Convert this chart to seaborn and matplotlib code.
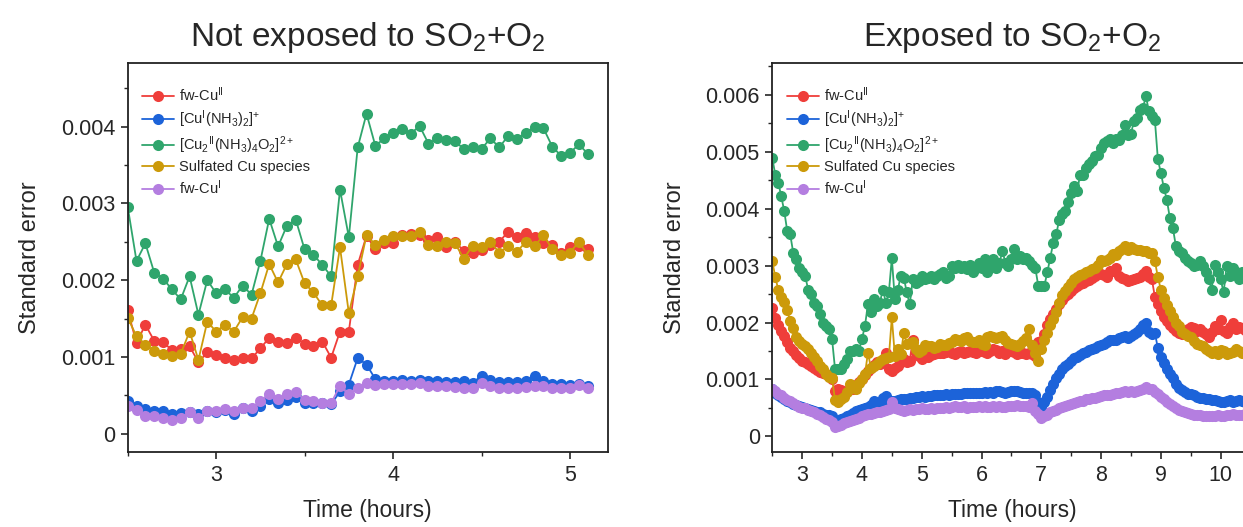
import numpy as np
import pandas as pd
import seaborn as sns
import matplotlib
matplotlib.use("Agg")
import matplotlib.pyplot as plt
from matplotlib.ticker import MultipleLocator, FuncFormatter

# standard error values, in units of 1e-3
species = [
    "fw-Cu$\\mathregular{^{II}}$",
    "[Cu$\\mathregular{^{I}}$(NH$\\mathregular{_3}$)$\\mathregular{_2}$]$\\mathregular{^{+}}$",
    "[Cu$\\mathregular{_2}$$\\mathregular{^{II}}$(NH$\\mathregular{_3}$)$\\mathregular{_4}$O$\\mathregular{_2}$]$\\mathregular{^{2+}}$",
    "Sulfated Cu species",
    "fw-Cu$\\mathregular{^{I}}$",
]
colors = ["#EF3E3A", "#1C63D9", "#2FA56C", "#CC9A0A", "#B47EE0"]

# left panel: not exposed (sampled every 0.05 h from 2.5 h)
time_left = np.round(np.arange(53) * 0.05 + 2.5, 2)
red_left = [1.61, 1.18, 1.42, 1.21, 1.19, 1.09, 1.10, 1.14, 0.93, 1.06,
            1.02, 0.985, 0.96, 0.98, 0.98, 1.11, 1.25, 1.19, 1.18, 1.25,
            1.17, 1.14, 1.20, 0.99, 1.33, 1.33, 2.20, 2.58, 2.40, 2.48,
            2.48, 2.59, 2.60, 2.59, 2.52, 2.56, 2.43, 2.50, 2.38, 2.36,
            2.39, 2.46, 2.50, 2.63, 2.56, 2.61, 2.56, 2.48, 2.46, 2.36,
            2.43, 2.44, 2.41]
blue_left = [0.42, 0.36, 0.32, 0.30, 0.29, 0.25, 0.27, 0.28, 0.25, 0.30,
             0.28, 0.31, 0.26, 0.33, 0.30, 0.36, 0.45, 0.40, 0.44, 0.48,
             0.40, 0.40, 0.40, 0.38, 0.55, 0.64, 0.985, 0.90, 0.71, 0.68,
             0.68, 0.70, 0.69, 0.70, 0.68, 0.68, 0.67, 0.67, 0.68, 0.66,
             0.755, 0.70, 0.67, 0.67, 0.67, 0.69, 0.75, 0.68, 0.65, 0.65,
             0.64, 0.65, 0.625]
green_left = [2.96, 2.25, 2.48, 2.10, 2.02, 1.88, 1.75, 2.05, 1.55, 2.00,
              1.83, 1.88, 1.77, 1.93, 1.81, 2.25, 2.80, 2.44, 2.71, 2.79,
              2.40, 2.33, 2.20, 2.05, 3.18, 2.56, 3.73, 4.17, 3.75, 3.85,
              3.92, 3.97, 3.91, 4.01, 3.78, 3.85, 3.83, 3.81, 3.71, 3.73,
              3.71, 3.85, 3.73, 3.88, 3.84, 3.92, 4.00, 3.98, 3.74, 3.62,
              3.66, 3.77, 3.65]
gold_left = [1.51, 1.27, 1.16, 1.08, 1.04, 1.01, 1.04, 1.33, 0.96, 1.46,
             1.33, 1.42, 1.33, 1.52, 1.50, 1.83, 2.21, 1.97, 2.21, 2.27,
             1.96, 1.84, 1.67, 1.67, 2.43, 1.57, 2.05, 2.59, 2.46, 2.53,
             2.57, 2.57, 2.57, 2.63, 2.46, 2.45, 2.50, 2.48, 2.28, 2.45,
             2.43, 2.50, 2.36, 2.44, 2.37, 2.50, 2.44, 2.59, 2.40, 2.33,
             2.36, 2.50, 2.33]
purple_left = [0.36, 0.31, 0.23, 0.23, 0.20, 0.18, 0.20, 0.28, 0.20, 0.30,
               0.29, 0.32, 0.29, 0.33, 0.33, 0.42, 0.52, 0.45, 0.52, 0.54,
               0.44, 0.42, 0.40, 0.40, 0.62, 0.51, 0.59, 0.66, 0.64, 0.65,
               0.65, 0.65, 0.65, 0.66, 0.625, 0.625, 0.625, 0.61, 0.595, 0.595,
               0.66, 0.625, 0.595, 0.595, 0.595, 0.61, 0.62, 0.62, 0.595, 0.595,
               0.595, 0.64, 0.59]

# right panel: exposed (sampled every 0.05 h from 2.5 h)
time_right = np.round(np.arange(160) * 0.05 + 2.5, 2)
red_right = [2.26, 2.08, 1.96, 1.85, 1.76, 1.66, 1.56, 1.50, 1.43, 1.37,
             1.33, 1.30, 1.27, 1.24, 1.20, 1.17, 1.13, 1.11, 1.09, 1.07,
             1.00, 0.80, 0.83, 0.82, 0.77, 0.80, 0.83, 0.84, 0.90, 0.95,
             1.01, 1.07, 1.14, 1.21, 1.26, 1.30, 1.28, 1.30, 1.47, 1.18,
             1.15, 1.20, 1.24, 1.30, 1.36, 1.30, 1.33, 1.70, 1.47, 1.42,
             1.36, 1.42, 1.39, 1.43, 1.45, 1.46, 1.47, 1.47, 1.48, 1.50,
             1.47, 1.44, 1.49, 1.50, 1.47, 1.48, 1.50, 1.49, 1.47, 1.53,
             1.50, 1.48, 1.47, 1.50, 1.53, 1.52, 1.47, 1.50, 1.45, 1.59,
             1.50, 1.48, 1.44, 1.47, 1.47, 1.44, 1.47, 1.45, 1.42, 1.65,
             1.68, 1.80, 1.95, 2.06, 2.15, 2.24, 2.33, 2.40, 2.46, 2.51,
             2.56, 2.61, 2.65, 2.68, 2.70, 2.73, 2.75, 2.79, 2.81, 2.87,
             2.85, 2.83, 2.80, 2.90, 2.91, 2.96, 2.82, 2.78, 2.76, 2.73,
             2.75, 2.76, 2.78, 2.80, 2.86, 2.91, 2.80, 2.76, 2.45, 2.32,
             2.20, 2.10, 2.02, 1.96, 1.90, 1.85, 1.82, 1.80, 1.82, 1.88,
             1.93, 1.90, 1.86, 1.88, 1.84, 1.80, 1.74, 1.84, 1.94, 1.88,
             2.04, 1.85, 1.82, 1.92, 2.00, 1.88, 1.92, 1.90, 1.87, 1.90]
blue_right = [0.83, 0.77, 0.72, 0.69, 0.66, 0.63, 0.60, 0.57, 0.55, 0.53,
              0.51, 0.50, 0.48, 0.47, 0.45, 0.43, 0.42, 0.40, 0.38, 0.37,
              0.36, 0.25, 0.27, 0.30, 0.33, 0.36, 0.38, 0.41, 0.44, 0.46,
              0.48, 0.50, 0.51, 0.55, 0.63, 0.58, 0.57, 0.68, 0.71, 0.60,
              0.62, 0.63, 0.64, 0.65, 0.65, 0.66, 0.67, 0.68, 0.69, 0.70,
              0.71, 0.70, 0.71, 0.71, 0.72, 0.73, 0.72, 0.73, 0.74, 0.73,
              0.74, 0.74, 0.75, 0.75, 0.77, 0.76, 0.76, 0.77, 0.76, 0.77,
              0.77, 0.78, 0.77, 0.78, 0.77, 0.79, 0.80, 0.78, 0.77, 0.78,
              0.80, 0.79, 0.80, 0.78, 0.77, 0.76, 0.77, 0.76, 0.72, 0.60,
              0.52, 0.60, 0.70, 0.82, 0.92, 1.02, 1.10, 1.18, 1.24, 1.28,
              1.33, 1.37, 1.40, 1.43, 1.46, 1.48, 1.51, 1.53, 1.56, 1.58,
              1.61, 1.63, 1.66, 1.69, 1.70, 1.70, 1.73, 1.74, 1.76, 1.73,
              1.77, 1.80, 1.84, 1.89, 1.95, 2.00, 1.84, 1.80, 1.82, 1.55,
              1.40, 1.29, 1.18, 1.10, 1.02, 0.92, 0.85, 0.81, 0.78, 0.75,
              0.74, 0.72, 0.70, 0.68, 0.68, 0.66, 0.65, 0.64, 0.64, 0.62,
              0.61, 0.60, 0.62, 0.64, 0.60, 0.62, 0.64, 0.62, 0.61, 0.62]
green_right = [4.89, 4.60, 4.46, 4.22, 3.96, 3.61, 3.55, 3.23, 3.11, 2.95,
               2.88, 2.82, 2.58, 2.50, 2.35, 2.29, 2.15, 2.00, 1.94, 1.88,
               1.71, 1.18, 1.18, 1.19, 1.27, 1.36, 1.50, 1.50, 1.53, 1.50,
               1.71, 1.94, 2.32, 2.18, 2.41, 2.29, 2.35, 2.58, 2.35, 2.53,
               3.13, 2.41, 2.58, 2.82, 2.79, 2.53, 2.32, 2.76, 2.70, 2.73,
               2.82, 2.76, 2.79, 2.82, 2.76, 2.82, 2.85, 2.88, 2.79, 2.82,
               2.99, 2.96, 3.02, 2.96, 2.99, 2.94, 3.02, 2.88, 2.96, 3.05,
               2.96, 3.11, 2.88, 3.02, 3.11, 2.96, 3.05, 3.26, 3.05, 2.99,
               3.11, 3.29, 3.11, 3.17, 3.11, 3.14, 3.08, 3.02, 2.96, 2.64,
               2.64, 2.64, 2.88, 3.14, 3.40, 3.55, 3.81, 3.90, 3.96, 4.11,
               4.28, 4.40, 4.31, 4.60, 4.60, 4.72, 4.78, 4.84, 4.92, 4.95,
               5.07, 5.16, 5.19, 5.22, 5.16, 5.22, 5.20, 5.30, 5.48, 5.29,
               5.32, 5.54, 5.60, 5.74, 5.77, 5.98, 5.71, 5.63, 5.56, 4.87,
               4.63, 4.37, 4.16, 3.84, 3.67, 3.35, 3.26, 3.23, 3.14, 3.08,
               3.05, 2.99, 3.01, 3.08, 2.99, 2.88, 2.76, 2.58, 3.02, 2.88,
               2.76, 2.53, 2.99, 2.82, 2.96, 2.88, 2.76, 2.88, 2.82, 2.85]
gold_right = [3.08, 2.80, 2.58, 2.45, 2.36, 2.22, 2.02, 1.90, 1.74, 1.68,
              1.62, 1.59, 1.53, 1.47, 1.40, 1.32, 1.24, 1.18, 1.10, 1.05,
              1.02, 0.64, 0.60, 0.66, 0.70, 0.78, 0.92, 0.88, 0.84, 0.94,
              1.00, 1.09, 1.47, 1.20, 1.24, 1.28, 1.33, 1.36, 1.38, 1.39,
              2.09, 1.42, 1.53, 1.44, 1.82, 1.62, 1.64, 1.65, 1.54, 1.48,
              1.52, 1.60, 1.59, 1.58, 1.56, 1.57, 1.62, 1.60, 1.61, 1.64,
              1.66, 1.71, 1.70, 1.68, 1.72, 1.74, 1.68, 1.65, 1.66, 1.70,
              1.62, 1.60, 1.75, 1.77, 1.74, 1.72, 1.74, 1.77, 1.70, 1.64,
              1.62, 1.60, 1.58, 1.62, 1.68, 1.72, 1.88, 1.60, 1.47, 1.33,
              1.53, 1.70, 1.82, 1.95, 2.06, 2.18, 2.35, 2.48, 2.56, 2.62,
              2.70, 2.76, 2.80, 2.83, 2.86, 2.88, 2.91, 2.94, 2.96, 3.02,
              3.10, 3.09, 3.10, 3.14, 3.20, 3.18, 3.26, 3.29, 3.35, 3.27,
              3.32, 3.29, 3.28, 3.27, 3.26, 3.26, 3.23, 3.22, 3.08, 2.80,
              2.58, 2.44, 2.30, 2.20, 2.10, 2.00, 1.94, 1.83, 1.80, 1.77,
              1.74, 1.67, 1.63, 1.61, 1.59, 1.53, 1.50, 1.47, 1.50, 1.45,
              1.52, 1.50, 1.45, 1.46, 1.48, 1.53, 1.50, 1.47, 1.49, 1.50]
purple_right = [0.83, 0.79, 0.75, 0.72, 0.68, 0.64, 0.62, 0.59, 0.55, 0.52,
                0.50, 0.49, 0.47, 0.45, 0.43, 0.40, 0.37, 0.34, 0.31, 0.28,
                0.25, 0.16, 0.18, 0.20, 0.23, 0.25, 0.27, 0.28, 0.30, 0.32,
                0.35, 0.37, 0.39, 0.40, 0.41, 0.42, 0.43, 0.45, 0.47, 0.48,
                0.60, 0.49, 0.48, 0.46, 0.45, 0.47, 0.48, 0.47, 0.48, 0.48,
                0.49, 0.48, 0.48, 0.49, 0.48, 0.49, 0.49, 0.50, 0.51, 0.50,
                0.52, 0.53, 0.51, 0.52, 0.53, 0.50, 0.51, 0.52, 0.51, 0.53,
                0.52, 0.53, 0.52, 0.51, 0.53, 0.52, 0.54, 0.52, 0.51, 0.53,
                0.54, 0.53, 0.55, 0.54, 0.53, 0.53, 0.52, 0.59, 0.45, 0.39,
                0.33, 0.35, 0.38, 0.42, 0.45, 0.47, 0.49, 0.51, 0.53, 0.55,
                0.57, 0.59, 0.60, 0.62, 0.63, 0.65, 0.66, 0.67, 0.68, 0.70,
                0.71, 0.72, 0.73, 0.73, 0.74, 0.76, 0.77, 0.78, 0.80, 0.78,
                0.79, 0.78, 0.79, 0.82, 0.84, 0.86, 0.84, 0.83, 0.78, 0.74,
                0.70, 0.65, 0.61, 0.57, 0.53, 0.49, 0.46, 0.44, 0.42, 0.41,
                0.40, 0.38, 0.37, 0.37, 0.36, 0.36, 0.35, 0.35, 0.36, 0.37,
                0.36, 0.36, 0.37, 0.38, 0.39, 0.38, 0.37, 0.38, 0.39, 0.38]


def long_frame(time, series):
    frames = []
    for name, vals in zip(species, series):
        frames.append(pd.DataFrame({"time": time, "se": np.array(vals) * 1e-3, "species": name}))
    return pd.concat(frames, ignore_index=True)


def y_fmt(v, pos):
    return "0" if abs(v) < 1e-9 else f"{v:.3f}"


def draw_panel(ax, df, title, xlim, ylim, xmajor):
    for name, color in zip(species, colors):
        sub = df[df["species"] == name]
        sns.lineplot(data=sub, x="time", y="se", color=color, marker="o",
                     markersize=8, markeredgewidth=0, markeredgecolor=color,
                     linewidth=1.3, label=name, ax=ax, sort=False)
    ax.set_xlim(*xlim)
    ax.set_ylim(*ylim)
    ax.xaxis.set_major_locator(MultipleLocator(xmajor))
    ax.xaxis.set_minor_locator(MultipleLocator(xmajor / 2))
    ax.yaxis.set_major_locator(MultipleLocator(0.001))
    ax.yaxis.set_minor_locator(MultipleLocator(0.0005))
    ax.yaxis.set_major_formatter(FuncFormatter(y_fmt))
    ax.tick_params(which="major", length=5, width=1.2, labelsize=15.5, direction="out",
                   top=False, right=False, pad=4)
    ax.tick_params(which="minor", length=3, width=1.0, direction="out",
                   top=False, right=False)
    for s in ax.spines.values():
        s.set_linewidth(1.3)
        s.set_color("#222222")
    ax.set_xlabel("Time (hours)", fontsize=16.5, labelpad=10)
    ax.set_ylabel("Standard error", fontsize=17, labelpad=14)
    ax.set_title(title, fontsize=24, pad=12)
    ax.legend(loc="upper left", frameon=False, fontsize=10.5, handlelength=2.2,
              handletextpad=0.35, labelspacing=0.3, borderaxespad=0.6,
              bbox_to_anchor=(0.0, 0.98))


sns.set_theme(style="ticks")
plt.rcParams["font.family"] = ["Liberation Sans", "DejaVu Sans"]
plt.rcParams["mathtext.default"] = "regular"

fig = plt.figure(figsize=(12.43, 5.27), dpi=100)
ax_left = fig.add_axes([0.1027, 0.1423, 0.3862, 0.738])
ax_right = fig.add_axes([0.6213, 0.1423, 0.3862, 0.738])

draw_panel(ax_left, long_frame(time_left, [red_left, blue_left, green_left, gold_left, purple_left]),
           "Not exposed to SO$_2$+O$_2$", (2.5, 5.213), (-0.00024, 0.00483), 1)
draw_panel(ax_right, long_frame(time_right, [red_right, blue_right, green_right, gold_right, purple_right]),
           "Exposed to SO$_2$+O$_2$", (2.5, 10.53), (-0.000275, 0.00656), 1)

fig.savefig("out.png", dpi=100)
